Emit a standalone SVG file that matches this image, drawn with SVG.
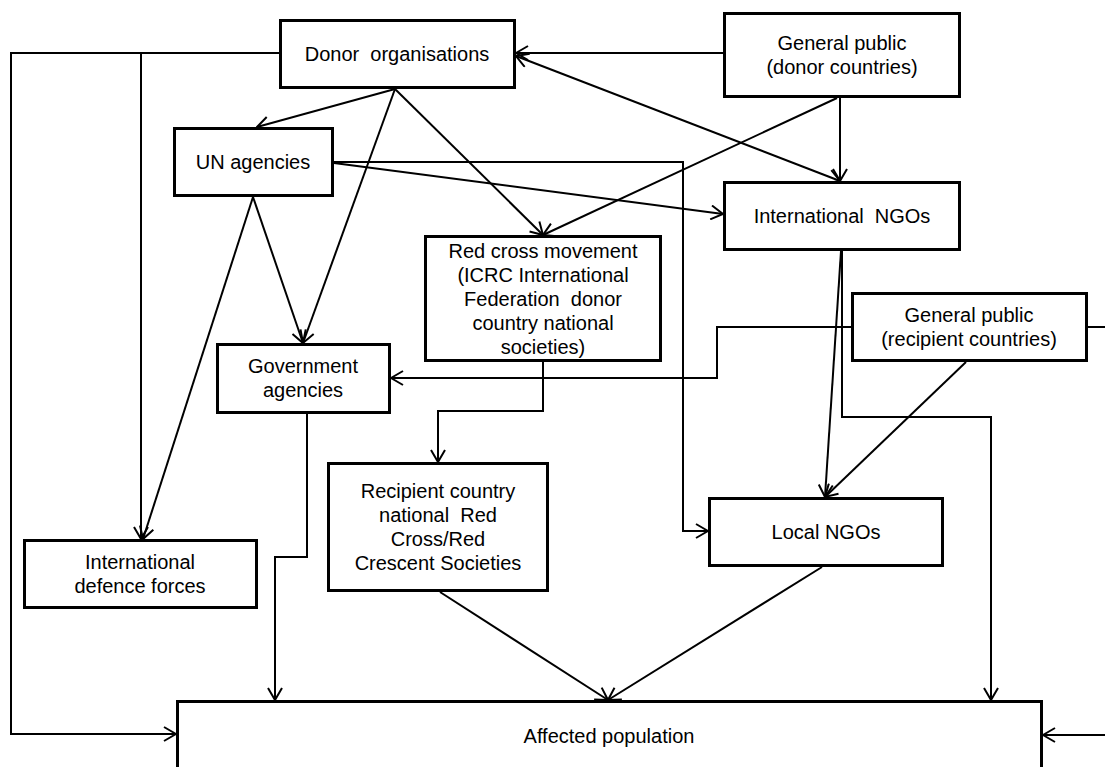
<svg xmlns="http://www.w3.org/2000/svg" width="1105" height="767" viewBox="0 0 1105 767">
<style>
.box{fill:#fff;stroke:#000;stroke-width:3}
.lbl{font-family:"Liberation Sans",Arial,sans-serif;font-size:20px;fill:#000;text-anchor:middle}
.c{fill:none;stroke:#000;stroke-width:2;marker-end:url(#arr)}
.n{fill:none;stroke:#000;stroke-width:2}
</style>
<defs>
<marker id="arr" viewBox="0 0 14 16" refX="13" refY="8" markerWidth="14" markerHeight="16" markerUnits="userSpaceOnUse" orient="auto-start-reverse">
<path d="M1,1 L13,8 L1,15" fill="none" stroke="#000" stroke-width="2"/>
</marker>
</defs>
<rect x="0" y="0" width="1105" height="767" fill="#fff"/>
<g id="connectors">
<path class="c" d="M723,53 H516"/>
<path class="c" d="M516,56 L840,181" marker-start="url(#arr)"/>
<path class="c" d="M840,98 V181"/>
<path class="c" d="M837,98 L543,235"/>
<path class="c" d="M395,89 L257,127"/>
<path class="c" d="M395,89 L303,343"/>
<path class="c" d="M395,89 L543,235"/>
<path class="c" d="M279,53 H11 V734 H176"/>
<path class="c" d="M141,53 V539"/>
<path class="c" d="M253,197 L143,539"/>
<path class="c" d="M253,197 L303,343"/>
<path class="c" d="M334,163 L723,214"/>
<path class="c" d="M334,162 H683 V531 H708"/>
<path class="c" d="M851,327 H717 V378 H391"/>
<path class="c" d="M1088,327 H1115 V735 H1043"/>
<path class="c" d="M543,362 V411 H438 V462"/>
<path class="c" d="M307,414 V557 H275 V700"/>
<path class="c" d="M841,251 L825,497"/>
<path class="c" d="M966,362 L825,497"/>
<path class="c" d="M842,251 V417 H991 V700"/>
<path class="c" d="M440,592 L608,700"/>
<path class="c" d="M822,567 L608,700"/>
</g>
<g id="donor">
<rect class="box" x="280.5" y="20.5" width="234" height="67"/>
<text class="lbl" x="397" y="61" xml:space="preserve">Donor  organisations</text>
</g>
<g id="gp-donor">
<rect class="box" x="724.5" y="13.5" width="235" height="83"/>
<text class="lbl" x="842" y="50">General public</text>
<text class="lbl" x="842" y="74">(donor countries)</text>
</g>
<g id="un">
<rect class="box" x="174.5" y="128.5" width="158" height="67"/>
<text class="lbl" x="253" y="169">UN agencies</text>
</g>
<g id="ingo">
<rect class="box" x="724.5" y="182.5" width="235" height="67"/>
<text class="lbl" x="842" y="223" xml:space="preserve">International  NGOs</text>
</g>
<g id="redcross">
<rect class="box" x="425.5" y="236.5" width="235" height="124"/>
<text class="lbl" x="543" y="258">Red cross movement</text>
<text class="lbl" x="543" y="282">(ICRC International</text>
<text class="lbl" x="543" y="306" xml:space="preserve">Federation  donor</text>
<text class="lbl" x="543" y="330">country national</text>
<text class="lbl" x="543" y="354">societies)</text>
</g>
<g id="gp-recipient">
<rect class="box" x="852.5" y="293.5" width="234" height="67"/>
<text class="lbl" x="969" y="322">General public</text>
<text class="lbl" x="969" y="346">(recipient countries)</text>
</g>
<g id="gov">
<rect class="box" x="217.5" y="344.5" width="172" height="68"/>
<text class="lbl" x="303" y="373">Government</text>
<text class="lbl" x="303" y="397">agencies</text>
</g>
<g id="recipient-rc">
<rect class="box" x="328.5" y="463.5" width="219" height="127"/>
<text class="lbl" x="438" y="498">Recipient country</text>
<text class="lbl" x="438" y="522" xml:space="preserve">national  Red</text>
<text class="lbl" x="438" y="546">Cross/Red</text>
<text class="lbl" x="438" y="570">Crescent Societies</text>
</g>
<g id="local">
<rect class="box" x="709.5" y="498.5" width="233" height="67"/>
<text class="lbl" x="826" y="539">Local NGOs</text>
</g>
<g id="defence">
<rect class="box" x="24.5" y="540.5" width="232" height="67"/>
<text class="lbl" x="140" y="569">International</text>
<text class="lbl" x="140" y="593">defence forces</text>
</g>
<g id="affected">
<rect class="box" x="177.5" y="701.5" width="864" height="100"/>
<text class="lbl" x="609" y="743">Affected population</text>
</g>
</svg>
